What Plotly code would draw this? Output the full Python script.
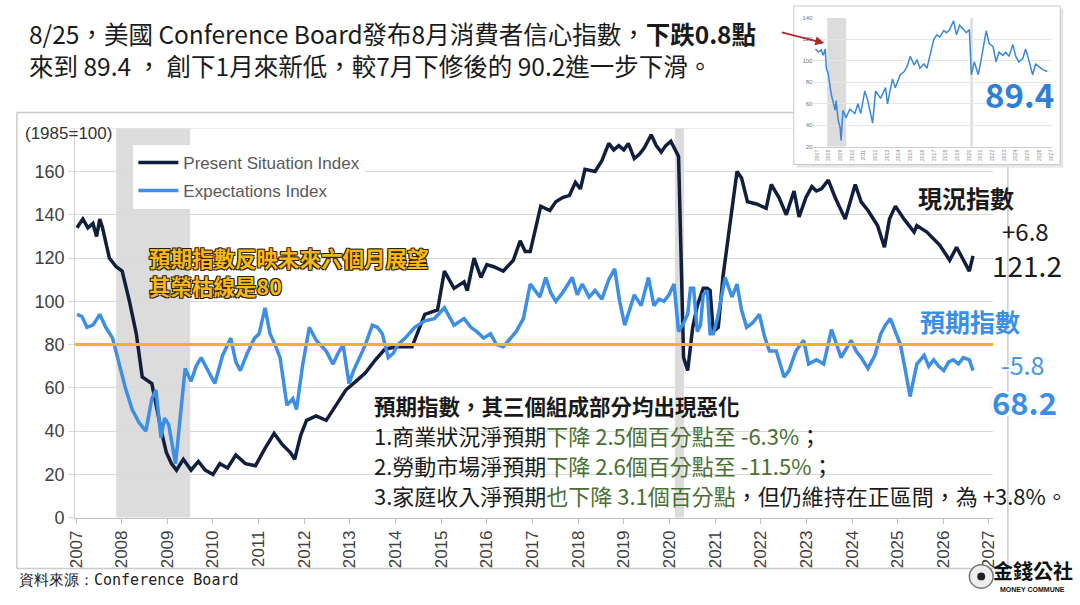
import plotly.graph_objects as go

# ---- data (x in axis years as labelled) ----
present_x = [2007.02, 2007.15, 2007.26, 2007.37, 2007.45, 2007.52, 2007.58, 2007.73, 2007.88, 2008.01,
             2008.17, 2008.32, 2008.45, 2008.66, 2008.88, 2008.98, 2009.09, 2009.20, 2009.35, 2009.52,
             2009.68, 2009.83, 2010.00, 2010.15, 2010.32, 2010.50, 2010.71, 2010.93, 2011.14, 2011.34,
             2011.51, 2011.70, 2011.79, 2011.92, 2012.05, 2012.26, 2012.48, 2012.70, 2012.91, 2013.13,
             2013.34, 2013.56, 2013.77, 2014.05, 2014.36, 2014.64, 2014.92, 2015.07, 2015.28, 2015.50,
             2015.57, 2015.72, 2015.87, 2016.00, 2016.15, 2016.36, 2016.58, 2016.73, 2016.84, 2016.95,
             2017.05, 2017.18, 2017.38, 2017.51, 2017.66, 2017.81, 2017.94, 2018.05, 2018.15, 2018.37,
             2018.52, 2018.67, 2018.78, 2018.89, 2019.00, 2019.10, 2019.23, 2019.34, 2019.45, 2019.60,
             2019.71, 2019.82, 2019.92, 2020.03, 2020.20, 2020.31, 2020.40, 2020.51, 2020.61, 2020.74,
             2020.83, 2020.89, 2020.96, 2021.07, 2021.17, 2021.33, 2021.48, 2021.58, 2021.71, 2021.91,
             2022.12, 2022.23, 2022.40, 2022.56, 2022.73, 2022.84, 2022.99, 2023.12, 2023.22, 2023.33,
             2023.48, 2023.63, 2023.85, 2024.07, 2024.20, 2024.35, 2024.56, 2024.71, 2024.82, 2024.95,
             2025.14, 2025.36, 2025.42, 2025.64, 2025.79, 2025.92, 2026.14, 2026.29, 2026.57, 2026.65]
present_y = [134, 138, 134, 136, 130, 138, 134, 120, 116, 114,
             100, 85, 65, 62, 39, 30, 25, 22, 27, 22,
             26, 22, 20, 25, 23, 29, 25, 24, 32, 39,
             34, 30, 27, 38, 45, 47, 45, 52, 59, 63,
             67, 73, 78, 79, 79, 94, 96, 114, 106, 109,
             105, 120, 111, 117, 116, 114, 119, 128, 123, 123,
             132, 144, 142, 146, 148, 149, 155, 152, 161, 160,
             165, 173, 170, 172, 170, 173, 166, 168, 171, 177,
             172, 169, 172, 174, 167, 74, 68, 88, 98, 106,
             106, 105, 86, 88, 111, 137, 160, 157, 146, 145,
             143, 154, 148, 140, 151, 139, 148, 153, 151, 152,
             156, 148, 138, 154, 146, 142, 135, 125, 138, 144,
             138, 132, 135, 132, 129, 126, 119, 125, 114, 121]

expect_x = [2007.02, 2007.13, 2007.24, 2007.37, 2007.52, 2007.65, 2007.80, 2007.95, 2008.08, 2008.23,
            2008.38, 2008.53, 2008.66, 2008.75, 2008.86, 2008.94, 2009.03, 2009.18, 2009.29, 2009.39,
            2009.52, 2009.63, 2009.74, 2009.89, 2010.04, 2010.21, 2010.39, 2010.50, 2010.60, 2010.75,
            2010.91, 2011.01, 2011.14, 2011.25, 2011.36, 2011.47, 2011.55, 2011.62, 2011.75, 2011.83,
            2011.96, 2012.11, 2012.26, 2012.48, 2012.63, 2012.74, 2012.85, 2012.98, 2013.08, 2013.19,
            2013.34, 2013.49, 2013.60, 2013.71, 2013.84, 2013.95, 2014.05, 2014.21, 2014.42, 2014.64,
            2014.85, 2015.07, 2015.28, 2015.50, 2015.65, 2015.78, 2015.93, 2016.08, 2016.21, 2016.36,
            2016.51, 2016.64, 2016.80, 2016.95, 2017.16, 2017.29, 2017.40, 2017.51, 2017.66, 2017.87,
            2017.98, 2018.09, 2018.24, 2018.37, 2018.52, 2018.67, 2018.80, 2018.91, 2019.02, 2019.13,
            2019.23, 2019.38, 2019.54, 2019.66, 2019.77, 2019.88, 2019.99, 2020.10, 2020.20, 2020.31,
            2020.40, 2020.46, 2020.53, 2020.61, 2020.68, 2020.74, 2020.83, 2020.89, 2020.96, 2021.05,
            2021.22, 2021.37, 2021.48, 2021.58, 2021.69, 2021.82, 2021.97, 2022.08, 2022.19, 2022.34,
            2022.51, 2022.62, 2022.77, 2022.94, 2023.05, 2023.22, 2023.38, 2023.55, 2023.66, 2023.76,
            2023.87, 2023.98, 2024.09, 2024.20, 2024.35, 2024.50, 2024.63, 2024.73, 2024.84, 2024.95,
            2025.06, 2025.17, 2025.27, 2025.36, 2025.42, 2025.58, 2025.68, 2025.79, 2025.90, 2026.01,
            2026.12, 2026.22, 2026.33, 2026.44, 2026.57, 2026.65]
expect_y = [94, 93, 88, 89, 94, 88, 83, 71, 60, 50,
            44, 40, 55, 59, 37, 46, 43, 25, 50, 69,
            63, 70, 74, 68, 62, 75, 83, 72, 68, 76,
            83, 85, 97, 85, 80, 74, 62, 52, 55, 50,
            70, 88, 82, 77, 71, 76, 80, 62, 68, 73,
            80, 89, 88, 85, 74, 76, 80, 83, 88, 91,
            92, 97, 89, 92, 88, 86, 83, 85, 80, 79,
            83, 86, 92, 108, 102, 111, 104, 100, 104, 111,
            103, 108, 102, 105, 101, 110, 115, 100, 89, 96,
            103, 98, 111, 98, 101, 100, 103, 108, 86, 90,
            94, 106, 106, 86, 89, 103, 105, 85, 85, 92,
            111, 102, 108, 96, 88, 90, 94, 84, 77, 77,
            65, 68, 77, 82, 71, 73, 71, 87, 80, 74,
            78, 82, 77, 74, 69, 75, 85, 89, 92, 86,
            80, 68, 56, 65, 71, 75, 70, 73, 70, 68,
            72, 73, 71, 74, 73, 68]

# small inset: headline consumer confidence index
inset_x = [2006.87, 2007.12, 2007.37, 2007.54, 2007.71, 2007.80, 2007.96, 2008.22, 2008.56, 2008.64,
           2008.81, 2008.98, 2009.06, 2009.23, 2009.48, 2009.82, 2010.24, 2010.50, 2010.75, 2011.09,
           2011.34, 2011.59, 2011.76, 2012.01, 2012.44, 2012.86, 2013.03, 2013.45, 2013.70, 2014.12,
           2014.46, 2014.72, 2014.97, 2015.31, 2015.56, 2015.81, 2016.15, 2016.40, 2016.66, 2016.99,
           2017.25, 2017.50, 2017.84, 2018.09, 2018.34, 2018.68, 2018.93, 2019.19, 2019.53, 2019.78,
           2020.03, 2020.20, 2020.45, 2020.79, 2021.04, 2021.30, 2021.47, 2021.72, 2022.06, 2022.31,
           2022.56, 2022.90, 2023.15, 2023.41, 2023.75, 2024.00, 2024.25, 2024.59, 2024.84, 2025.10,
           2025.44, 2025.69, 2025.94, 2026.28, 2026.70]
inset_y = [111, 108, 110, 105, 111, 93, 88, 69, 54, 63,
           45, 38, 26, 54, 47, 55, 51, 60, 51, 72,
           63, 51, 42, 72, 65, 75, 60, 83, 75, 87,
           90, 95, 104, 96, 101, 93, 97, 93, 104, 120,
           124, 122, 128, 126, 129, 137, 124, 133, 129, 126,
           129, 87, 99, 87, 101, 117, 128, 116, 113, 99,
           108, 105, 108, 104, 115, 104, 99, 102, 111, 101,
           87, 97, 95, 92, 90]

year_ticks = list(range(2007, 2028))
main_yticks = [0, 20, 40, 60, 80, 100, 120, 140, 160]
inset_yticks = [20, 40, 60, 80, 100, 120, 140]
recessions = [(2007.88, 2009.50), (2020.12, 2020.32)]

W, H = 1080, 605


def px(x):
    return x / W


def py(y):
    return 1 - y / H


CJK = "Noto Sans CJK TC"
ARIAL = "Liberation Sans"
NAVY = "#0f1f3d"
BLUE = "#3d8fe6"
GREEN = "#4a7031"

fig = go.Figure()

fig.add_trace(go.Scatter(x=present_x, y=present_y, mode="lines", name="Present Situation Index",
                         line=dict(color=NAVY, width=3.5), legendgroup="a"))
fig.add_trace(go.Scatter(x=expect_x, y=expect_y, mode="lines", name="Expectations Index",
                         line=dict(color=BLUE, width=3.5), legendgroup="b"))
fig.add_trace(go.Scatter(x=inset_x, y=inset_y, mode="lines", xaxis="x2", yaxis="y2",
                         line=dict(color="#3a88d8", width=1.5), showlegend=False))

shapes = []
# recession shading, main and inset
for a, b in recessions:
    shapes.append(dict(type="rect", xref="x", yref="y", x0=a, x1=b, y0=0, y1=180,
                       fillcolor="#dcdcdc", line=dict(width=0), layer="below"))
    shapes.append(dict(type="rect", xref="x2", yref="y2", x0=a, x1=b, y0=20, y1=140,
                       fillcolor="#dcdcdc", line=dict(width=0), layer="below"))

# top gridline (stops where the inset sits)
shapes.append(dict(type="line", xref="paper", yref="y", x0=px(61), x1=px(795), y0=180, y1=180,
                   line=dict(color="#d9d9d9", width=1), layer="below"))
# boom/bust line at 80
shapes.append(dict(type="line", xref="paper", yref="y", x0=px(67), x1=px(997), y0=80, y1=80,
                   line=dict(color="#f5b21a", width=3), layer="above"))

# chart frame
frame = "#cccccc"
for x0, y0, x1, y1 in [(8, 112, 8, 578), (8, 578, 1012, 578), (1012, 165, 1012, 578), (8, 112, 795, 112)]:
    shapes.append(dict(type="line", xref="paper", yref="paper", x0=px(x0), x1=px(x1),
                       y0=py(y0), y1=py(y1), line=dict(color=frame, width=1.5), layer="below"))

# inset box with a soft shadow
shapes.append(dict(type="rect", xref="paper", yref="paper", x0=px(798), x1=px(1068), y0=py(168), y1=py(6),
                   fillcolor="#e4e4e4", line=dict(width=0), layer="below"))
shapes.append(dict(type="rect", xref="paper", yref="paper", x0=px(795), x1=px(1065), y0=py(165), y1=py(3),
                   fillcolor="white", line=dict(color="#c8c8c8", width=1), layer="below"))

# logo padlock
shapes.append(dict(type="circle", xref="paper", yref="paper", x0=px(973), x1=px(997), y0=py(598), y1=py(574),
                   fillcolor="#eeeeee", line=dict(color="#777777", width=1.5)))
shapes.append(dict(type="circle", xref="paper", yref="paper", x0=px(981), x1=px(989), y0=py(590), y1=py(582),
                   fillcolor="#222222", line=dict(width=0)))

outline_dark = "-1px -1px 0 #2b2100, 1px -1px 0 #2b2100, -1px 1px 0 #2b2100, 1px 1px 0 #2b2100"
outline_white = ("-2px -2px 0 #ffffff, 2px -2px 0 #ffffff, -2px 2px 0 #ffffff, 2px 2px 0 #ffffff, "
                 "0 0 4px #7fb4ee")


def note(x, y, text, size, color="#1a1a1a", family=CJK, xanchor="left", **kw):
    fig.add_annotation(x=px(x), y=py(y), xref="paper", yref="paper", text=text, showarrow=False,
                       xanchor=xanchor, yanchor="middle", align="left",
                       font=dict(family=family, size=size, color=color, **kw))


note(18, 31, "8/25，美國 Conference Board發布8月消費者信心指數，<b>下跌0.8點</b>", 24.5)
note(18, 64, "來到 89.4 ， 創下1月來新低，較7月下修後的 90.2進一步下滑。", 24.5)

fig.add_annotation(x=px(826), y=py(41), xref="paper", yref="paper", text="", showarrow=True,
                   ax=-44, ay=-11, arrowcolor="#b0282c", arrowwidth=1.8, arrowhead=2, arrowsize=1)

note(1024, 93, "<b>89.4</b>", 33, color="#2f7fd6", xanchor="center")

note(14, 133, "(1985=100)", 17, color="#333333", family=ARIAL)

note(140, 260, "<b>預期指數反映未來六個月展望</b>", 21.5, color="#f6b915", shadow=outline_dark)
note(140, 289, "<b>其榮枯線是80</b>", 21.5, color="#f6b915", shadow=outline_dark)

note(368, 411, "<b>預期指數，其三個組成部分均出現惡化</b>", 21.5)
big = "font-size:22px"
note(368, 441.5, "1.商業狀況淨預期"
     f"<span style='color:{GREEN}'>下降 </span><span style='color:{GREEN};{big}'>2.5</span>"
     f"<span style='color:{GREEN}'>個百分點至 </span><span style='color:{GREEN};{big}'>-6.3%</span>；", 22)
note(368, 472, "2.勞動市場淨預期"
     f"<span style='color:{GREEN}'>下降 </span><span style='color:{GREEN};{big}'>2.6</span>"
     f"<span style='color:{GREEN}'>個百分點至 </span><span style='color:{GREEN};{big}'>-11.5%</span>；", 22)
note(368, 502.5, "3.家庭收入淨預期"
     f"<span style='color:{GREEN}'>也下降 </span><span style='color:{GREEN};{big}'>3.1</span>"
     f"<span style='color:{GREEN}'>個百分點</span>，但仍維持在正區間，為 +3.8%。", 22)

note(970, 199, "<b>現況指數</b>", 24, xanchor="center")
note(1030, 233, "+6.8", 24, xanchor="center")
note(1031, 268, "121.2", 28, xanchor="center")
note(974, 325, "<b>預期指數</b>", 25, color="#3a8ee6", xanchor="center")
note(1027, 369, "-5.8", 25, color="#4a97e8", xanchor="center", shadow=outline_white)
note(1029, 407, "<b>68.2</b>", 31, color="#3a8ee6", xanchor="center", shadow=outline_white)

note(8, 590, "資料來源：Conference Board", 15, color="#222222", family="DejaVu Sans Mono")
note(1037, 580, "<b>金錢公社</b>", 20, color="#111111", xanchor="center")
note(1037, 599, "<b>MONEY COMMUNE</b>", 7, color="#111111", family=ARIAL, xanchor="center")

fig.update_layout(
    width=W, height=H,
    margin=dict(l=0, r=0, t=0, b=0),
    paper_bgcolor="white", plot_bgcolor="white",
    shapes=shapes,
    showlegend=True,
    legend=dict(x=px(126), y=py(145), xanchor="left", yanchor="top", bgcolor="white",
                font=dict(family=ARIAL, size=17, color="#595959"), tracegroupgap=3,
                itemwidth=40, borderwidth=0),
    xaxis=dict(domain=[px(67), px(997)], range=[2006.98, 2027.09], tickmode="array",
               tickvals=year_ticks, ticktext=[str(v) for v in year_ticks], tickangle=-90,
               ticks="outside", ticklen=5, tickcolor="#bfbfbf", showgrid=False, zeroline=False,
               showline=True, linecolor="#bfbfbf", linewidth=1,
               tickfont=dict(family=ARIAL, size=17, color="#404040")),
    yaxis=dict(domain=[py(526), py(128)], range=[0, 180], tickmode="array", tickvals=main_yticks,
               showgrid=True, gridcolor="#d9d9d9", gridwidth=1, zeroline=False,
               showline=True, linecolor="#d0d0d0", ticks="outside", ticklen=6, tickcolor="#d9d9d9",
               tickfont=dict(family=ARIAL, size=18, color="#404040")),
    xaxis2=dict(domain=[px(815), px(1057)], range=[2006.7, 2027.12], anchor="y2", tickmode="array",
                tickvals=year_ticks, tickangle=-90, showgrid=False, zeroline=False, showline=True,
                linecolor="#cccccc", ticks="", tickfont=dict(family=ARIAL, size=5, color="#888888")),
    yaxis2=dict(domain=[py(147), py(15)], range=[20, 140], anchor="x2", tickmode="array",
                tickvals=inset_yticks, showgrid=True, gridcolor="#e6e6e6", zeroline=False,
                tickfont=dict(family=ARIAL, size=6, color="#777777")),
)

# drop the page's default body margin and scrollbars so the figure fills the window exactly
fig.write_html(
    "out.html",
    config={"displayModeBar": False},
    post_script=("document.documentElement.style.overflow='hidden';"
                 "document.body.style.margin='0';document.body.style.overflow='hidden';"),
)
